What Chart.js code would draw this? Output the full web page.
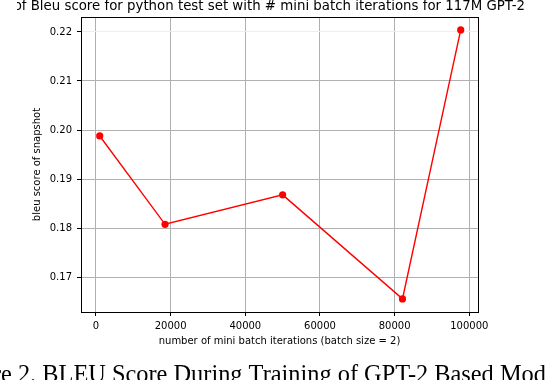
<!DOCTYPE html>
<html>
<head>
<meta charset="utf-8">
<script src="https://cdn.jsdelivr.net/npm/chart.js@4/dist/chart.umd.min.js"></script>
<style>
  html, body { margin: 0; padding: 0; background: #fff; }
  #wrap { width: 546px; height: 380px; position: relative; }
</style>
</head>
<body>
<div id="wrap"><canvas id="chart" width="546" height="380"></canvas></div>
<script>
// snapshot iterations and bleu scores
const iterations = [1000, 18500, 50000, 82100, 97700]
const bleuScores = [0.1988, 0.1808, 0.1868, 0.1656, 0.2204]

const xTicks = [0, 20000, 40000, 60000, 80000, 100000]
const yTicks = [0.17, 0.18, 0.19, 0.20, 0.21, 0.22]

const titleText = 'Plot of Bleu score for python test set with # mini batch iterations for 117M GPT-2'
const xLabel = 'number of mini batch iterations (batch size = 2)'
const yLabel = 'bleu score of snapshot'
const captionText = 'Figure 2. BLEU Score During Training of GPT-2 Based Model'

const SANS = '"DejaVu Sans", sans-serif'
const SERIF = '"Liberation Serif", "Times New Roman", serif'

// fit a string to a given pixel width
function fitSize(ctx, text, family, width) {
  ctx.font = '20px ' + family
  return 20 * width / ctx.measureText(text).width
}

const textPlugin = {
  id: 'texts',
  afterDraw(chart) {
    const ctx = chart.ctx
    const a = chart.chartArea
    ctx.save()
    // box around the axes
    ctx.strokeStyle = '#000'
    ctx.lineWidth = 1
    ctx.strokeRect(Math.round(a.left) + 0.5, Math.round(a.top) + 0.5,
      Math.round(a.right - a.left), Math.round(a.bottom - a.top))

    ctx.fillStyle = '#000'
    // title: the figure is cropped, so its start is cut off
    let s = fitSize(ctx, 'of Bleu score for python test set with # mini batch iterations for 117M GPT-2', SANS, 512)
    ctx.save()
    ctx.beginPath()
    ctx.rect(17, 0, 546, 16)
    ctx.clip()
    ctx.font = s.toFixed(2) + 'px ' + SANS
    ctx.textAlign = 'right'
    ctx.textBaseline = 'middle'
    ctx.fillText(titleText, 525, 6.5)
    ctx.restore()

    // axis labels
    ctx.font = '10px ' + SANS
    ctx.textAlign = 'center'
    ctx.textBaseline = 'middle'
    ctx.fillText(xLabel, (a.left + a.right) / 2, 341)
    ctx.save()
    ctx.translate(37, (a.top + a.bottom) / 2)
    ctx.rotate(-Math.PI / 2)
    ctx.fillText(yLabel, 0, 0)
    ctx.restore()

    // caption, cut at both sides
    s = fitSize(ctx, 'e 2. BLEU Score During Training of GPT-2 Based Mod', SERIF, 545)
    ctx.font = s.toFixed(2) + 'px ' + SERIF
    ctx.textAlign = 'left'
    ctx.textBaseline = 'alphabetic'
    const pre = ctx.measureText('Figur').width
    ctx.fillText(captionText, 1 - pre, 366 + 0.662 * s)
    ctx.restore()
  }
}

new Chart(document.getElementById('chart'), {
  type: 'line',
  data: {
    datasets: [{
      data: iterations.map((x, i) => ({ x: x, y: bleuScores[i] })),
      borderColor: '#ff0000',
      backgroundColor: '#ff0000',
      borderWidth: 1.4,
      pointRadius: 3.6,
      pointBorderWidth: 0,
      pointBackgroundColor: '#ff0000',
      tension: 0
    }]
  },
  options: {
    responsive: false,
    animation: false,
    events: [],
    layout: { padding: { left: 0, right: 68, top: 17, bottom: 0 } },
    plugins: {
      legend: { display: false },
      tooltip: { enabled: false }
    },
    scales: {
      x: {
        type: 'linear',
        min: -4018,
        max: 102330,
        afterBuildTicks: s => { s.ticks = xTicks.map(v => ({ value: v })) },
        afterFit: s => { s.height = 68 },
        border: { display: true, color: '#000', width: 1 },
        grid: { color: '#b0b0b0', lineWidth: 1, tickColor: '#000', tickLength: 4 },
        ticks: {
          color: '#000',
          padding: 4,
          maxRotation: 0,
          font: { family: SANS, size: 10 },
          callback: v => String(v)
        }
      },
      y: {
        type: 'linear',
        min: 0.16293,
        max: 0.22304,
        afterBuildTicks: s => { s.ticks = yTicks.map(v => ({ value: v })) },
        afterFit: s => { s.width = 81 },
        border: { display: true, color: '#000', width: 1 },
        grid: {
          color: c => (c.tick && c.tick.value > 0.215) ? '#eeeeee' : '#b0b0b0',
          lineWidth: 1,
          tickColor: '#000',
          tickLength: 4
        },
        ticks: {
          color: '#000',
          padding: 5,
          font: { family: SANS, size: 10 },
          callback: v => v.toFixed(2)
        }
      }
    }
  },
  plugins: [textPlugin]
})
</script>
</body>
</html>
